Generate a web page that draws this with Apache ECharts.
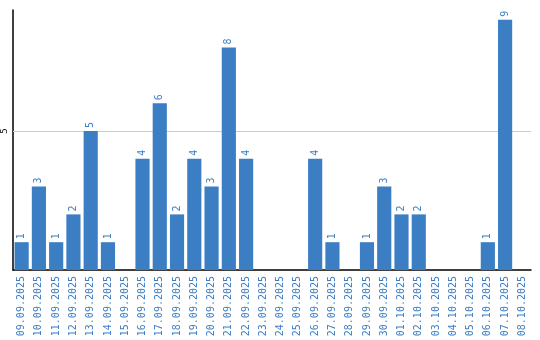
<!DOCTYPE html>
<html><head><meta charset="utf-8">
<script src="https://cdn.jsdelivr.net/npm/echarts@6/dist/echarts.min.js"></script>
<style>html,body{margin:0;padding:0;background:#fff}#c{width:540px;height:340px}</style>
</head><body><div id="c"></div>
<script>
const categories = ["09.09.2025","10.09.2025","11.09.2025","12.09.2025","13.09.2025","14.09.2025","15.09.2025","16.09.2025","17.09.2025","18.09.2025","19.09.2025","20.09.2025","21.09.2025","22.09.2025","23.09.2025","24.09.2025","25.09.2025","26.09.2025","27.09.2025","28.09.2025","29.09.2025","30.09.2025","01.10.2025","02.10.2025","03.10.2025","04.10.2025","05.10.2025","06.10.2025","07.10.2025","08.10.2025"];
const values = [1,3,1,2,5,1,0,4,6,2,4,3,8,4,0,0,0,4,1,0,1,3,2,2,0,0,0,1,9,0];
const yMax = 9.35;
const yInterval = 5;
const gridLines = [5];

const chart = echarts.init(document.getElementById('c'));
chart.setOption({
  animation: false,
  grid: {left: 10, right: 9, top: 10, bottom: 70},
  xAxis: {
    type: 'category', data: categories,
    axisLine: {lineStyle: {color: '#000', width: 1.5}},
    axisTick: {show: false},
    axisLabel: {rotate: 90, color: '#3a7dc4', fontFamily: 'DejaVu Sans Mono', fontSize: 10, interval: 0, margin: 6}
  },
  yAxis: {
    type: 'value', min: 0, max: yMax, interval: yInterval,
    axisLine: {show: true, lineStyle: {color: '#000', width: 1.5}},
    axisTick: {show: false},
    splitLine: {show: false},
    axisLabel: {rotate: 90, color: '#000', fontFamily: 'DejaVu Sans Mono', fontSize: 9, margin: 4,
      formatter: v => (v !== 0 && v % yInterval === 0 ? String(v) : '')}
  },
  series: [{
    type: 'bar', data: values.map(v => v === 0 ? null : v),
    barCategoryGap: '18%',
    itemStyle: {color: '#3b7ec4'},
    z: 3,
    label: {show: true, position: 'top', rotate: 90, align: 'left', verticalAlign: 'middle', distance: 3,
      color: '#3a7dc4', fontFamily: 'DejaVu Sans Mono', fontSize: 10},
    markLine: {
      silent: true, symbol: 'none', label: {show: false}, z: 1,
      lineStyle: {color: '#cccccc', type: 'solid', width: 1},
      data: gridLines.map(v => ({yAxis: v}))
    }
  }]
});
</script></body></html>
